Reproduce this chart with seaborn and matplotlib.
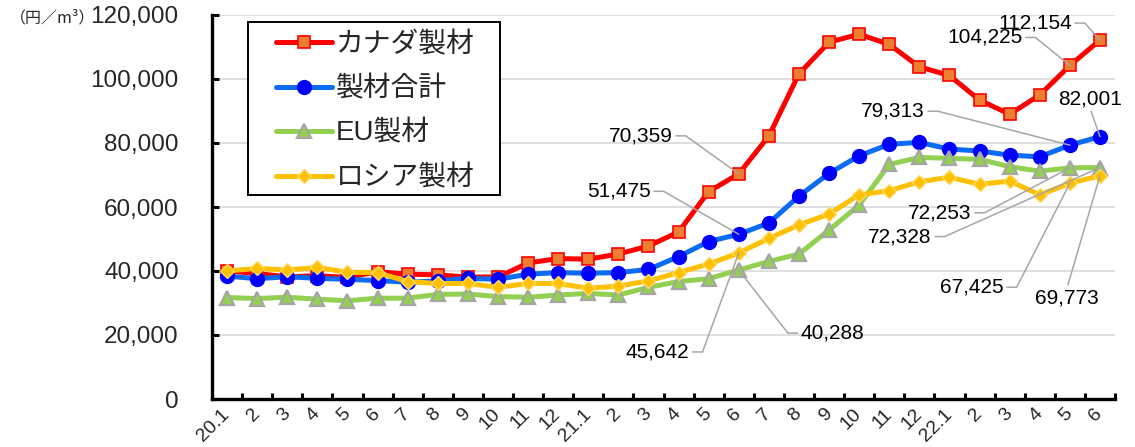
import matplotlib
matplotlib.use("Agg")
import matplotlib.pyplot as plt
import seaborn as sns
import pandas as pd
from matplotlib.patches import Rectangle
from matplotlib.ticker import FuncFormatter, FixedLocator, MultipleLocator

# Monthly lumber prices (yen per cubic metre), Jan 2020 - Jun 2022
months = ["20.1", "2", "3", "4", "5", "6", "7", "8", "9", "10", "11", "12",
          "21.1", "2", "3", "4", "5", "6", "7", "8", "9", "10", "11", "12",
          "22.1", "2", "3", "4", "5", "6"]

canada = [40000, 39200, 38200, 38500, 38000, 39800, 39000, 38800, 38100, 38100,
          42500, 43900, 43700, 45300, 47800, 52200, 64800, 70359, 82200, 101600,
          111500, 114000, 110800, 103800, 101100, 93400, 89000, 95000, 104225, 112154]
total = [38400, 37600, 38200, 37700, 37400, 37000, 36500, 36900, 37700, 37400,
         39000, 39500, 39300, 39500, 40500, 44500, 49200, 51475, 55000, 63400,
         70500, 76000, 79600, 80200, 78100, 77500, 76200, 75700, 79313, 82001]
eu = [31700, 31400, 31800, 31200, 30700, 31500, 31500, 32700, 32800, 32000,
      31800, 32500, 33000, 32500, 34900, 36700, 37600, 40288, 43000, 45300,
      52800, 60600, 73300, 75500, 75200, 74900, 72600, 71200, 72253, 72328]
russia = [40000, 40800, 40300, 41100, 39600, 39500, 36700, 36100, 36100, 34900,
          36100, 36100, 34600, 35300, 36900, 39500, 42200, 45642, 50200, 54400,
          57800, 63800, 65100, 67900, 69300, 67100, 68100, 63800, 67425, 69773]

series_names = ["カナダ製材", "製材合計", "EU製材", "ロシア製材"]

sns.set_theme(style="white")
plt.rcParams["font.family"] = ["Liberation Sans", "Noto Sans CJK JP", "DejaVu Sans"]

fig = plt.figure(figsize=(11.35, 4.47), dpi=100)
ax = fig.add_axes([212 / 1135, 1 - 399 / 447, (1115 - 212) / 1135, (399 - 15) / 447])

x = list(range(len(months)))
df = pd.DataFrame({"x": x, series_names[0]: canada, series_names[1]: total,
                   series_names[2]: eu, series_names[3]: russia})

styles = {
    "カナダ製材": dict(color="#FF0000", marker="s", markersize=9,
                   markerfacecolor="#ED7D31", markeredgecolor="#FF0000", markeredgewidth=1.2),
    "製材合計": dict(color="#0A6CF5", marker="o", markersize=10,
                 markerfacecolor="#0000FF", markeredgecolor="#0000FF", markeredgewidth=1.0),
    "EU製材": dict(color="#92D050", marker="^", markersize=9.5,
                 markerfacecolor="#92D050", markeredgecolor="#A5A5A5", markeredgewidth=1.6),
    "ロシア製材": dict(color="#FFC000", marker="D", markersize=7,
                   markerfacecolor="#FFC000", markeredgecolor="#FFD966", markeredgewidth=1.0),
}

for name in series_names:
    sns.lineplot(data=df, x="x", y=name, ax=ax, label=name, linewidth=3.6, **styles[name])

ax.set_xlim(-0.5, len(months) - 0.5)
ax.set_ylim(0, 120000)
ax.set_xlabel("")
ax.set_ylabel("")

# y axis
ax.yaxis.set_major_locator(MultipleLocator(20000))
ax.yaxis.set_major_formatter(FuncFormatter(lambda v, p: f"{int(v):,}"))
ax.tick_params(axis="y", direction="in", length=5, width=2.2, labelsize=17.5, pad=24,
               color="black", left=True)
ax.grid(axis="y", color="#D9D9D9", linewidth=1.2)
ax.grid(axis="x", visible=False)

# x axis: labels at month centres, tick marks between months
ax.xaxis.set_major_locator(FixedLocator(x))
ax.set_xticklabels(months)
ax.xaxis.set_minor_locator(FixedLocator([i + 0.5 for i in range(len(months))]))
ax.tick_params(axis="x", which="major", length=0, labelsize=14, pad=9)
ax.tick_params(axis="x", which="minor", direction="in", length=4, width=2.2,
               color="black", bottom=True)
for lbl in ax.get_xticklabels():
    lbl.set_rotation(45)
    lbl.set_rotation_mode("anchor")
    lbl.set_ha("right")
    lbl.set_va("center")

for side in ["top", "right"]:
    ax.spines[side].set_visible(False)
for side in ["left", "bottom"]:
    ax.spines[side].set_color("black")
    ax.spines[side].set_linewidth(2.4)

# value labels with elbow leader lines
series_map = {"canada": canada, "total": total, "eu": eu, "russia": russia}
labels = [
    # series, index, dx, dy (pixels), arm side
    ("canada", 17, -98, 38, "left"),
    ("total", 17, -120, 43, "left"),
    ("russia", 17, -81, -99, "left"),
    ("eu", 17, 94, -63, "right"),
    ("total", 28, -177, 34, "left"),
    ("total", 29, -10, 38, "below"),
    ("canada", 28, -85, 28, "left"),
    ("canada", 29, -65, 17, "left"),
    ("eu", 28, -130, -45, "left"),
    ("eu", 29, -200, -69, "left"),
    ("russia", 28, -98, -104, "left"),
    ("russia", 29, -33, -122, "above"),
]
for key, idx, dx, dy, side in labels:
    val = series_map[key][idx]
    if side == "left":
        relpos, cstyle = (1, 0.5), "arc,angleA=0,armA=13,angleB=0,armB=0,rad=0"
    elif side == "right":
        relpos, cstyle = (0, 0.5), "arc,angleA=180,armA=13,angleB=0,armB=0,rad=0"
    elif side == "below":
        relpos, cstyle = (0.5, 0), "arc3,rad=0"
    else:
        relpos, cstyle = (0.5, 1), "arc3,rad=0"
    ax.annotate(f"{val:,}", xy=(idx, val), xytext=(dx, dy), textcoords="offset pixels",
                ha="center", va="center", fontsize=15, color="black", zorder=6,
                arrowprops=dict(arrowstyle="-", color="#A6A6A6", linewidth=1.1,
                                connectionstyle=cstyle, relpos=relpos,
                                shrinkA=0, shrinkB=0))

# legend: entries without their own frame, boxed by a plain white rectangle
box = Rectangle((0.0399, 0.531), 0.279, 0.4505, transform=ax.transAxes,
                facecolor="white", edgecolor="black", linewidth=1.4, zorder=7)
ax.add_patch(box)
leg = ax.legend(loc="upper left", bbox_to_anchor=(0.0709, 0.956), borderaxespad=0,
                fontsize=20, frameon=False, handlelength=2.0, handletextpad=0.15,
                borderpad=0, labelspacing=0.66)
leg.set_zorder(8)

fig.text(10 / 1135, 1 - 18 / 447, "（円／m³）", fontsize=11.5, va="center", ha="left",
         family=["Noto Sans CJK JP", "DejaVu Sans"])

fig.savefig("out.png", dpi=100)
